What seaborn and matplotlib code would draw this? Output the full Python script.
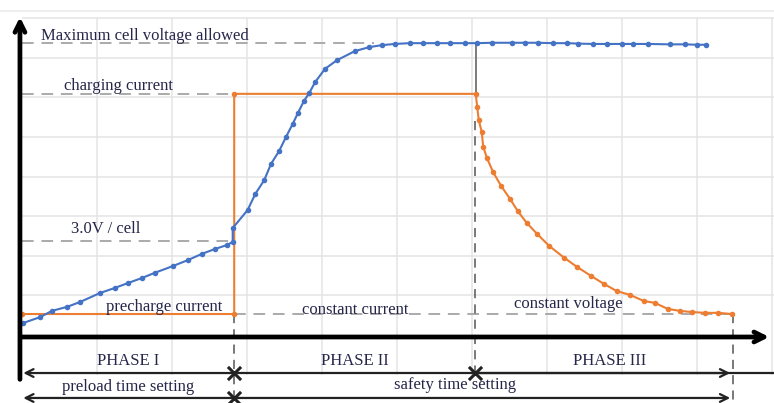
import numpy as np
import pandas as pd
import matplotlib
matplotlib.use("Agg")
import matplotlib.pyplot as plt
import seaborn as sns

# cell voltage curve (blue)
volt_x = [0.01, 0.24, 0.40, 0.60, 0.77, 1.04, 1.24, 1.41, 1.60, 1.77, 2.01, 2.21, 2.40, 2.57, 2.73, 2.81,
          2.81, 3.01, 3.11, 3.23, 3.32, 3.43, 3.52, 3.61, 3.68, 3.76, 3.83, 3.91, 4.04, 4.20, 4.44,
          4.63, 4.80, 4.97, 5.17, 5.35, 5.53, 5.71, 5.91, 6.07, 6.27, 6.53, 6.71, 6.88, 7.08, 7.27,
          7.41, 7.61, 7.80, 8.00, 8.15, 8.35, 8.64, 8.84, 9.00, 9.12]
volt_y = [0.30, 0.45, 0.61, 0.71, 0.83, 1.06, 1.19, 1.31, 1.44, 1.57, 1.74, 1.89, 2.05, 2.17, 2.27, 2.35,
          2.70, 3.16, 3.56, 3.91, 4.32, 4.65, 5.00, 5.33, 5.61, 5.91, 6.11, 6.39, 6.72, 6.94, 7.17,
          7.27, 7.32, 7.35, 7.37, 7.37, 7.37, 7.37, 7.37, 7.37, 7.38, 7.38, 7.38, 7.38, 7.37, 7.37,
          7.36, 7.35, 7.35, 7.35, 7.35, 7.35, 7.34, 7.34, 7.33, 7.33]

# charging current curve (orange)
curr_x = [0.00, 2.83, 2.83, 6.05, 6.07, 6.09, 6.13, 6.15, 6.20, 6.28, 6.39, 6.51, 6.61, 6.73, 6.87,
          7.03, 7.23, 7.40, 7.59, 7.76, 7.93, 8.11, 8.29, 8.44, 8.61, 8.77, 8.93, 9.11, 9.28, 9.47]
curr_y = [0.53, 0.53, 6.09, 6.09, 5.76, 5.43, 5.13, 4.75, 4.47, 4.12, 3.76, 3.43, 3.13, 2.83, 2.55,
          2.25, 1.95, 1.72, 1.49, 1.29, 1.11, 1.01, 0.86, 0.81, 0.66, 0.61, 0.58, 0.56, 0.56, 0.53]

# reference levels and phase limits
v_max = 7.37
i_charge = 6.09
v_precharge = 2.37
i_precharge = 0.53
phase_edges = [0.0, 2.83, 6.04, 9.48]
phase_names = ["PHASE I", "PHASE II", "PHASE III"]
timer_names = ["preload time setting", "safety time setting"]

blue = "#4472C4"
orange = "#ED7D31"
txt = "#26264a"

sns.set_theme(style="white")
plt.rcParams["font.family"] = ["Liberation Serif", "DejaVu Serif"]

fig = plt.figure(figsize=(7.74, 4.03), dpi=100)
ax = fig.add_axes([0, 0, 1, 1])
ax.set_xlim(-0.293, 10.027)
ax.set_ylim(-1.717, 8.46)
ax.axis("off")

# light grid
ax.vlines(np.arange(1, 11), -1.01, 8.0, color="#e4e4e4", lw=1.1, zorder=0)
ax.hlines(np.arange(1, 9), 0, 10.03, color="#e4e4e4", lw=1.1, zorder=0)
ax.hlines(8.18, -0.29, 10.03, color="#efefef", lw=1.5, zorder=0)

# dashed guide lines
dash = dict(color="#aaaaaa", lw=1.4, linestyle=(0, (6, 4)), zorder=1)
ax.plot([0, 4.7], [v_max, v_max], **dash)
ax.plot([0, phase_edges[1]], [i_charge, i_charge], **dash)
ax.plot([0, phase_edges[1]], [v_precharge, v_precharge], **dash)
ax.plot([phase_edges[1], phase_edges[3]], [i_precharge, i_precharge], **dash)

vdash = dict(color="#555555", lw=1.1, linestyle=(0, (6, 4)), zorder=1)
ax.plot([phase_edges[1]] * 2, [i_precharge, -1.72], **vdash)
ax.plot([phase_edges[2]] * 2, [5.4, -0.96], **vdash)
ax.plot([phase_edges[3]] * 2, [i_precharge, -1.72], **vdash)
ax.plot([6.05, 6.05], [v_max, i_charge], color="#666666", lw=1.2, zorder=2)

# curves
volt = pd.DataFrame({"t": volt_x, "v": volt_y})
curr = pd.DataFrame({"t": curr_x, "v": curr_y})
sns.lineplot(data=curr, x="t", y="v", color=orange, lw=1.5, marker="o", markersize=4,
             markeredgewidth=0, sort=False, estimator=None, ax=ax, zorder=3)
sns.lineplot(data=volt, x="t", y="v", color=blue, lw=1.5, marker="o", markersize=4,
             markeredgewidth=0, sort=False, estimator=None, ax=ax, zorder=4)

# axes arrows
ax.annotate("", xy=(-0.027, 8.1), xytext=(-0.027, -1.19),
            arrowprops=dict(arrowstyle="->", lw=3.4, color="black", mutation_scale=18), zorder=5)
ax.annotate("", xy=(10.0, -0.05), xytext=(-0.05, -0.05),
            arrowprops=dict(arrowstyle="->", lw=3.4, color="black", mutation_scale=18), zorder=5)

# labels on the chart
fs = 12
ax.text(1.64, 7.54, "Maximum cell voltage allowed", color=txt, fontsize=fs, ha="center", va="center")
ax.text(1.29, 6.30, "charging current", color=txt, fontsize=fs, ha="center", va="center")
ax.text(1.12, 2.67, "3.0V / cell", color=txt, fontsize=fs, ha="center", va="center")
ax.text(1.89, 0.71, "precharge current", color=txt, fontsize=fs, ha="center", va="center")
ax.text(4.45, 0.64, "constant current", color=txt, fontsize=fs, ha="center", va="center")
ax.text(7.28, 0.79, "constant voltage", color=txt, fontsize=fs, ha="center", va="center")

# phase row
row1, row2 = -0.96, -1.59
arr = dict(arrowstyle="->", lw=1.6, color="#222222", mutation_scale=14)
name_x = [1.41, 4.44, 7.84]
for name, nx in zip(phase_names, name_x):
    ax.text(nx, -0.66, name, color=txt, fontsize=fs, ha="center", va="center")
ax.plot([phase_edges[1], 10.03], [row1, row1], color="#222222", lw=1.6, zorder=2)
ax.annotate("", xy=(-0.02, row1), xytext=(phase_edges[1], row1), arrowprops=arr)
ax.annotate("", xy=(phase_edges[3], row1), xytext=(phase_edges[2], row1), arrowprops=arr)
for ex in phase_edges[1:3]:
    ax.scatter([ex], [row1], marker="x", color="#222222", s=90, linewidths=2.2, zorder=7)

# timer row
ax.text(1.41, -1.31, timer_names[0], color=txt, fontsize=fs, ha="center", va="center")
ax.text(5.77, -1.27, timer_names[1], color=txt, fontsize=fs, ha="center", va="center")
ax.annotate("", xy=(-0.02, row2), xytext=(phase_edges[1], row2), arrowprops=arr)
ax.annotate("", xy=(phase_edges[3], row2), xytext=(phase_edges[1], row2), arrowprops=arr)
ax.scatter([phase_edges[1]], [row2], marker="x", color="#222222", s=90, linewidths=2.2, zorder=7)

fig.savefig("out.png", dpi=100)
